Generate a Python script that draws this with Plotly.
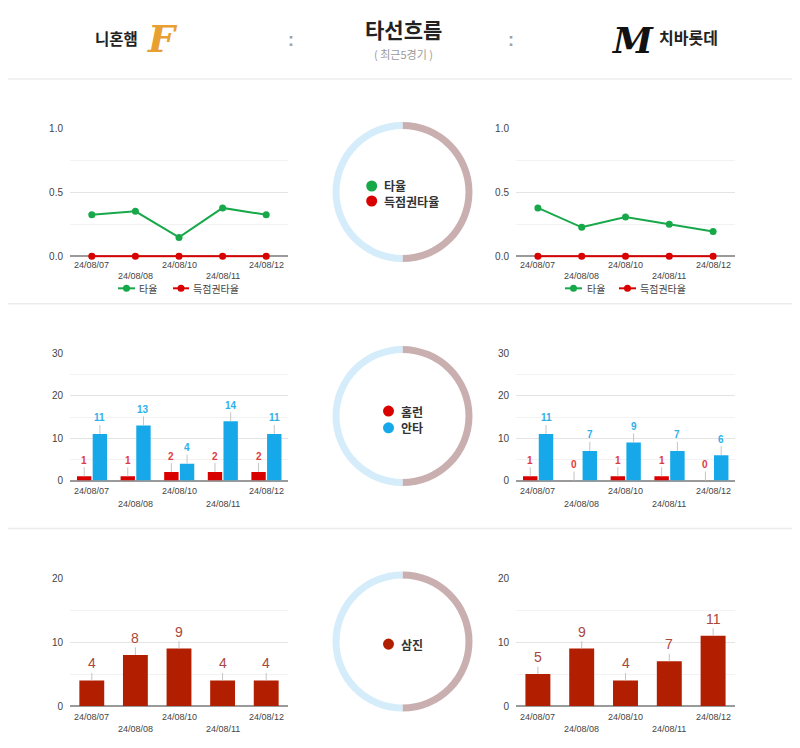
import plotly.graph_objects as go

W, H = 800, 748

# ---------------- data ----------------
dates = ["24/08/07", "24/08/08", "24/08/10", "24/08/11", "24/08/12"]

home_team = "니혼햄"
away_team = "치바롯데"
title = "타선흐름"
subtitle = "( 최근5경기 )"

home_avg = [0.325, 0.351, 0.147, 0.378, 0.324]
home_risp = [0.0, 0.0, 0.0, 0.0, 0.0]
away_avg = [0.378, 0.226, 0.306, 0.250, 0.194]
away_risp = [0.0, 0.0, 0.0, 0.0, 0.0]

home_hr = [1, 1, 2, 2, 2]
home_hits = [11, 13, 4, 14, 11]
away_hr = [1, 0, 1, 1, 0]
away_hits = [11, 7, 9, 7, 6]

home_so = [4, 8, 9, 4, 4]
away_so = [5, 9, 4, 7, 11]

avg_names = ["타율", "득점권타율"]
hit_names = ["홈런", "안타"]
so_names = ["삼진"]
avg_legend = ["타율", "득점권타율"]

# ---------------- style ----------------
GREEN = "#17a84a"
RED = "#d90000"
BLUE = "#16a8e8"
SO = "#b21e00"
RED_TXT = "#e03c3c"
BLUE_TXT = "#2fb0ea"
SO_TXT = "#a9473b"
RING_L = "#d5ecfa"
RING_R = "#c9afaf"
KFONT = "Noto Sans CJK KR, Noto Sans, sans-serif"
NFONT = "Liberation Sans, Arial, sans-serif"

# calibration of page placement (measured offset / vertical scale of the rendered page)
DX, OY, SY = 8.0, 14.3, 0.982


def X(px):
    return (px - DX) / W


def Y(py):
    return 1 - ((py - OY) / SY) / H


idx = list(range(len(dates)))

fig = go.Figure()

LEFT = (70, 288)
RIGHT = (516, 735)
ROW_Y = [(128.3, 255.7), (352.7, 479.3), (576.7, 704.0)]
TOPS = [1.0, 30, 20]
MAJ = [0.5, 10, 10]
MIN = [0.25, 5, 5]
PAD_PX = [1.6, 0, 0]   # tiny extra room below zero so the 0-line is not clipped

layout_axes = {}
n = 0
for r in range(3):
    for xdom in (LEFT, RIGHT):
        n += 1
        sx = "" if n == 1 else str(n)
        y0, y1 = ROW_Y[r]
        per_px = TOPS[r] / (y1 - y0)
        layout_axes["xaxis" + sx] = dict(
            domain=[X(xdom[0]), X(xdom[1])], range=[-0.5, len(dates) - 0.5],
            showgrid=False, showticklabels=False, zeroline=False, showline=False,
            anchor="y" + sx, fixedrange=True)
        layout_axes["yaxis" + sx] = dict(
            domain=[Y(y1 + PAD_PX[r]), Y(y0)], range=[-PAD_PX[r] * per_px, TOPS[r]],
            tick0=0, dtick=MAJ[r],
            tickformat=".1f" if r == 0 else "d",
            gridcolor="#e4e4e4", gridwidth=1,
            minor=dict(tick0=0, dtick=MIN[r], showgrid=True, gridcolor="#f2f2f2", gridwidth=1),
            zeroline=True, zerolinecolor="#9a9a9a", zerolinewidth=1.5,
            showline=False, ticks="", ticklabelstandoff=6,
            tickfont=dict(family=NFONT, size=10, color="#444444"),
            anchor="x" + sx, fixedrange=True)

# ---- line charts ----
for sx, avg, risp in (("", home_avg, home_risp), ("2", away_avg, away_risp)):
    fig.add_trace(go.Scatter(x=idx, y=avg, mode="lines+markers", name=avg_names[0],
                             line=dict(color=GREEN, width=2), marker=dict(size=7, color=GREEN),
                             cliponaxis=False, showlegend=False, xaxis="x" + sx, yaxis="y" + sx,
                             hoverinfo="skip"))
    fig.add_trace(go.Scatter(x=idx, y=risp, mode="lines+markers", name=avg_names[1],
                             line=dict(color=RED, width=2), marker=dict(size=7, color=RED),
                             cliponaxis=False, showlegend=False, xaxis="x" + sx, yaxis="y" + sx,
                             hoverinfo="skip"))

annotations = []

# ---- HR / hits bars ----
HR_OFF, HIT_OFF, BW = -0.34, 0.02, 0.33
for sx, hr, hits in (("3", home_hr, home_hits), ("4", away_hr, away_hits)):
    fig.add_trace(go.Bar(x=idx, y=hr, offset=HR_OFF, width=BW, name=hit_names[0],
                         marker=dict(color=RED, line=dict(width=0)), showlegend=False,
                         xaxis="x" + sx, yaxis="y" + sx, hoverinfo="skip"))
    fig.add_trace(go.Bar(x=idx, y=hits, offset=HIT_OFF, width=BW, name=hit_names[1],
                         marker=dict(color=BLUE, line=dict(width=0)), showlegend=False,
                         xaxis="x" + sx, yaxis="y" + sx, hoverinfo="skip"))
    for i in idx:
        annotations.append(dict(x=i + HR_OFF + BW / 2, y=hr[i], xref="x" + sx, yref="y" + sx,
                                text="<b>%d</b>" % hr[i], showarrow=True, arrowhead=0, arrowwidth=1,
                                arrowcolor="#c4c4c4", ax=0, ay=-16, standoff=0,
                                font=dict(family=NFONT, size=10, color=RED_TXT)))
        annotations.append(dict(x=i + HIT_OFF + BW / 2, y=hits[i], xref="x" + sx, yref="y" + sx,
                                text="<b>%d</b>" % hits[i], showarrow=True, arrowhead=0, arrowwidth=1,
                                arrowcolor="#c4c4c4", ax=0, ay=-16, standoff=0,
                                font=dict(family=NFONT, size=10, color=BLUE_TXT)))

# ---- strikeout bars ----
for sx, so in (("5", home_so), ("6", away_so)):
    fig.add_trace(go.Bar(x=idx, y=so, width=0.57, name=so_names[0],
                         marker=dict(color=SO, line=dict(width=0)), showlegend=False,
                         xaxis="x" + sx, yaxis="y" + sx, hoverinfo="skip"))
    for i in idx:
        annotations.append(dict(x=i, y=so[i], xref="x" + sx, yref="y" + sx,
                                text=str(so[i]), showarrow=True, arrowhead=0, arrowwidth=1,
                                arrowcolor="#c4c4c4", ax=0, ay=-17, standoff=0,
                                font=dict(family=NFONT, size=14, color=SO_TXT)))

# ---- date labels (staggered) ----
ROWS_LBL = [(264.5, 275.5), (490.0, 502.5), (715.0, 726.7)]
n = 0
for r in range(3):
    for side in range(2):
        n += 1
        sx = "" if n == 1 else str(n)
        for i, d in enumerate(dates):
            annotations.append(dict(x=i, y=Y(ROWS_LBL[r][i % 2]), xref="x" + sx, yref="paper",
                                    text=d, showarrow=False, yanchor="middle",
                                    font=dict(family=NFONT, size=9, color="#444444")))

shapes = []

# ---- line chart legends (manual) ----
for (g0, g1, gt, r0, r1, rt) in ((118, 135, 137, 173, 189, 191), (565, 582, 585, 619, 636, 638)):
    for (a, b, t, col, label) in ((g0, g1, gt, GREEN, avg_legend[0]), (r0, r1, rt, RED, avg_legend[1])):
        shapes.append(dict(type="line", xref="paper", yref="paper", x0=X(a), x1=X(b),
                           y0=Y(287.7), y1=Y(287.7), line=dict(color=col, width=2)))
        c = (a + b) / 2
        shapes.append(dict(type="circle", xref="paper", yref="paper", x0=X(c - 3.5), x1=X(c + 3.5),
                           y0=Y(287.7 + 3.5), y1=Y(287.7 - 3.5), fillcolor=col, line=dict(width=0)))
        annotations.append(dict(x=X(t), y=Y(287.7), xref="paper", yref="paper", text=label,
                                showarrow=False, xanchor="left", yanchor="middle",
                                font=dict(family=KFONT, size=10, color="#444444")))

# ---- center rings ----
CX, RR = 402.5, 70
centers = [191.7, 415.0, 639.7]
for cy in centers:
    fig.add_trace(go.Pie(values=[1, 1], labels=["away", "home"], sort=False, direction="clockwise",
                         rotation=0, hole=0.9, textinfo="none", hoverinfo="skip",
                         marker=dict(colors=[RING_R, RING_L], line=dict(width=0)),
                         domain=dict(x=[X(CX - RR), X(CX + RR)], y=[Y(cy + RR), Y(cy - RR)]),
                         showlegend=False))

# ---- center legends ----
center_items = [
    (371.7, [185.7, 200.7], [GREEN, RED], avg_names),
    (388.5, [410.0, 426.7], [RED, BLUE], hit_names),
    (388.5, [642.3], [SO], so_names),
]
for (dx, dys, cols, labels) in center_items:
    rr = 5.5
    for dy, col in zip(dys, cols):
        shapes.append(dict(type="circle", xref="paper", yref="paper", x0=X(dx - rr), x1=X(dx + rr),
                           y0=Y(dy + rr), y1=Y(dy - rr), fillcolor=col, line=dict(width=0)))
    annotations.append(dict(x=X(dx + 10), y=Y(sum(dys) / len(dys)), xref="paper", yref="paper",
                            text="<br>".join("<b>%s</b>" % s for s in labels), align="left",
                            showarrow=False, xanchor="left", yanchor="middle",
                            font=dict(family=KFONT, size=12, color="#333333")))

# ---- separators ----
for sy in (79, 303, 527):
    shapes.append(dict(type="line", xref="paper", yref="paper", x0=-0.05, x1=1.05, y0=Y(sy), y1=Y(sy),
                       line=dict(color="#ececec", width=1.5)))

# ---- header ----
header = [
    dict(x=X(116), y=Y(38), text="<b>%s</b>" % home_team, font=dict(family=KFONT, size=15.5, color="#222")),
    dict(x=X(162), y=Y(39), text="<b><i>F</i></b>", font=dict(family="DejaVu Serif", size=38, color="#e8a030")),
    dict(x=X(403), y=Y(29), text="<b>%s</b>" % title, font=dict(family=KFONT, size=21, color="#222")),
    dict(x=X(403), y=Y(54), text=subtitle, font=dict(family=KFONT, size=11, color="#9a9a9a")),
    dict(x=X(291), y=Y(40), text="<b>:</b>", font=dict(family=NFONT, size=18, color="#a0a0a0")),
    dict(x=X(511), y=Y(40), text="<b>:</b>", font=dict(family=NFONT, size=18, color="#a0a0a0")),
    dict(x=X(632), y=Y(40), text="<b><i>M</i></b>", font=dict(family="DejaVu Serif", size=36, color="#111")),
    dict(x=X(688), y=Y(37), text="<b>%s</b>" % away_team, font=dict(family=KFONT, size=16, color="#222")),
]
for a in header:
    a.update(xref="paper", yref="paper", showarrow=False, xanchor="center", yanchor="middle")
annotations += header

fig.update_layout(
    width=W, height=H, margin=dict(l=0, r=0, t=0, b=0),
    paper_bgcolor="white", plot_bgcolor="white",
    barmode="overlay", showlegend=False,
    annotations=annotations, shapes=shapes,
    **layout_axes,
)

fig.write_html("out.html")
